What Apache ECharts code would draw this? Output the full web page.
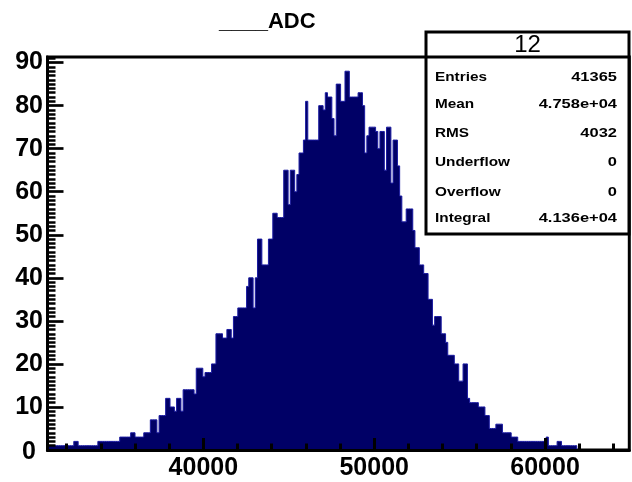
<!DOCTYPE html>
<html>
<head>
<meta charset="utf-8">
<script src="https://cdn.jsdelivr.net/npm/echarts@6/dist/echarts.min.js"></script>
<style>
  html, body { margin: 0; padding: 0; background: #ffffff; }
  #chart { width: 632px; height: 482px; }
</style>
</head>
<body>
<div id="chart"></div>
<script>
// ---------------- data ----------------
const chartTitle = '____ADC';
const xMin = 30877;
const xMax = 64930;
const yMin = 0;
const yMax = 91.3;
const xTickLabels = [40000, 50000, 60000];
const yTickLabels = [0, 10, 20, 30, 40, 50, 60, 70, 80, 90];
const binStart = 30880;
const binWidth = 128;
const counts = [
  1,1,1,1,1,1,1,1,1,1,1,1,
  2,2,
  1,1,1,1,1,1,1,1,1,
  2,2,2,2,2,2,2,2,2,2,
  3,3,3,3,3,
  4,4,
  3,3,3,3,
  4,4,4,
  7,7,7,
  4,
  8,8,8,
  12,12,10,10,
  9,12,12,9,
  14,14,14,14,14,13,
  19,19,19,17,
  18,18,18,20,20,
  27,27,27,26,26,28,28,26,
  31,31,33,33,33,33,
  38,40,40,33,40,49,49,
  43,43,43,49,49,55,55,
  54,54,54,65,65,57,
  65,65,60,64,69,69,72,81,
  72,72,72,72,72,80,80,79,
  83,82,82,77,73,85,85,81,81,
  88,88,82,82,82,82,83,83,80,
  69,73,75,75,75,74,70,74,74,
  65,75,75,62,72,72,66,59,53,53,
  56,56,56,51,47,47,43,43,41,41,
  35,35,29,31,31,31,27,27,25,
  22,22,22,20,20,16,16,20,20,12,
  11,11,11,11,10,10,10,8,8,
  5,5,5,6,6,6,4,4,4,4,
  3,3,3,
  2,2,2,2,2,2,2,2,2,2,2,2,2,
  3,1,1,1,1,2,2,
  1,1,1,1,1,1,1,0
];
const statsTitle = '12';
const statsNames = ['Entries', 'Mean', 'RMS', 'Underflow', 'Overflow', 'Integral'];
const statsValues = ['41365', '4.758e+04', '4032', '0', '0', '4.136e+04'];

// ---------------- build ----------------
const histPoints = counts.map((c, k) => [binStart + k * binWidth, c]);
histPoints.push([binStart + counts.length * binWidth, 0]);

const xMinorTicks = [];
for (let v = 32000; v <= 64000; v += 2000) if (v % 10000 !== 0) xMinorTicks.push(v);
const yMinorTicks = [];
for (let v = 1; v <= 91; v++) if (v % 10 !== 0) yMinorTicks.push(v);

const FONT = '"Liberation Sans", Arial, Helvetica, sans-serif';
const labelStyle = { color: '#000', fontFamily: FONT, fontWeight: 'bold', fontSize: 25 };

const box = { left: 426, top: 32, right: 629, bottom: 234, header: 57 };
const rowY = [77, 104, 133, 162, 192, 218];

const graphics = [
  { type: 'text', x: 219, y: 21.5, z: 100,
    style: { text: chartTitle, font: 'bold 22px ' + FONT, fill: '#000', align: 'left', verticalAlign: 'middle' } },
  { type: 'rect', z: 100,
    shape: { x: box.left, y: box.top, width: box.right - box.left, height: box.bottom - box.top },
    style: { fill: '#fff', stroke: '#000', lineWidth: 3 } },
  { type: 'line', z: 101,
    shape: { x1: box.left, y1: box.header, x2: box.right, y2: box.header },
    style: { stroke: '#000', lineWidth: 3 } },
  { type: 'text', x: (box.left + box.right) / 2, y: 45, z: 102,
    style: { text: statsTitle, font: '24px ' + FONT, fill: '#000', align: 'center', verticalAlign: 'middle' } }
];
statsNames.forEach((n, i) => {
  graphics.push({ type: 'text', x: 435, y: rowY[i], z: 102, scaleX: 1.18,
    style: { text: n, font: 'bold 13px ' + FONT, fill: '#000', align: 'left', verticalAlign: 'middle' } });
  graphics.push({ type: 'text', x: 617, y: rowY[i], z: 102, scaleX: 1.22,
    style: { text: statsValues[i], font: 'bold 13.5px ' + FONT, fill: '#000', align: 'right', verticalAlign: 'middle' } });
});

const chart = echarts.init(document.getElementById('chart'), null, { renderer: 'canvas' });
chart.setOption({
  animation: false,
  backgroundColor: '#ffffff',
  grid: { left: 47.5, right: 2.7, top: 57, bottom: 32, show: true, borderColor: '#000', borderWidth: 3, backgroundColor: 'transparent' },
  xAxis: [
    { type: 'value', min: xMin, max: xMax, position: 'bottom', z: 10,
      axisLine: { show: true, onZero: false, lineStyle: { color: '#000', width: 3 } },
      axisTick: { show: true, inside: true, length: 12, customValues: xTickLabels, lineStyle: { color: '#000', width: 3 } },
      axisLabel: { show: true, customValues: xTickLabels, margin: 6, formatter: v => String(v), ...labelStyle },
      splitLine: { show: false } },
    { type: 'value', min: xMin, max: xMax, position: 'bottom', z: 10,
      axisLine: { show: false },
      axisTick: { show: true, inside: true, length: 6.5, customValues: xMinorTicks, lineStyle: { color: '#000', width: 3 } },
      axisLabel: { show: false },
      splitLine: { show: false } }
  ],
  yAxis: [
    { type: 'value', min: yMin, max: yMax, position: 'left', z: 10,
      axisLine: { show: true, onZero: false, lineStyle: { color: '#000', width: 3 } },
      axisTick: { show: true, inside: true, length: 16, customValues: yTickLabels, lineStyle: { color: '#000', width: 2.7 } },
      axisLabel: { show: true, customValues: yTickLabels, margin: 4.5,
        formatter: v => (v === 0 ? '{z|0}' : String(v)),
        rich: { z: { ...labelStyle, padding: [4, 7, 0, 0] } },
        ...labelStyle },
      splitLine: { show: false } },
    { type: 'value', min: yMin, max: yMax, position: 'left', z: 10,
      axisLine: { show: false },
      axisTick: { show: true, inside: true, length: 8, customValues: yMinorTicks, lineStyle: { color: '#000', width: 2.5 } },
      axisLabel: { show: false },
      splitLine: { show: false } }
  ],
  series: [
    { type: 'line', xAxisIndex: 0, yAxisIndex: 0, step: 'end', data: histPoints,
      symbol: 'none', showSymbol: false, silent: true,
      lineStyle: { color: '#1a1aa0', width: 1 },
      areaStyle: { color: '#000066', opacity: 1 },
      z: 2 }
  ],
  graphic: graphics
});
</script>
</body>
</html>
